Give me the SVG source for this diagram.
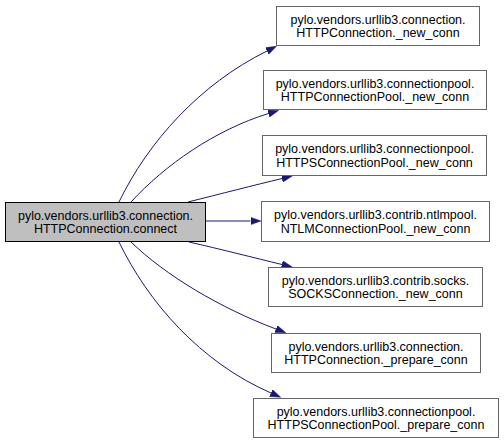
<svg xmlns="http://www.w3.org/2000/svg" width="504" height="444" viewBox="0 0 504 444">
<defs>
<style>
.n rect{fill:#ffffff;stroke:#666666;stroke-width:1}
.n.cur rect{fill:#bfbfbf;stroke:#000000}
.n text{font-family:"Liberation Sans",Arial,sans-serif;font-size:12.5px;fill:#000;text-anchor:middle}
.e path{fill:none;stroke:#191970;stroke-width:1}
</style>
<marker id="ah" markerUnits="userSpaceOnUse" markerWidth="11" markerHeight="8" refX="0" refY="3.75" orient="auto">
<path d="M0,0 L10.5,3.75 L0,7.5 z" fill="#191970" stroke="#191970" stroke-width="0.5"/>
</marker>
</defs>
<rect width="504" height="444" fill="#ffffff"/>
<g id="edges" class="e">
<path d="M119,202 C148,142 200,84 267,51" marker-end="url(#ah)"/>
<path d="M131,202 C165,165 215,130 268.5,113.5" marker-end="url(#ah)"/>
<path d="M188,202 C220,194 255,185 282,178.5" marker-end="url(#ah)"/>
<path d="M206,221 L250.5,221" marker-end="url(#ah)"/>
<path d="M189,242 C220,249 255,258 282,264.5" marker-end="url(#ah)"/>
<path d="M131,242 C165,275 220,308 276,329" marker-end="url(#ah)"/>
<path d="M119,242 C148,302 200,362 271,393" marker-end="url(#ah)"/>
</g>
<g id="node0" class="n cur">
<rect x="5.5" y="202.5" width="200" height="39"/>
<text x="105.5" y="219.5">pylo.vendors.urllib3.connection.</text>
<text x="105.5" y="233.2">HTTPConnection.connect</text>
</g>
<g id="node1" class="n">
<rect x="276.5" y="6.5" width="203" height="39"/>
<text x="378" y="23.5">pylo.vendors.urllib3.connection.</text>
<text x="378" y="37.2">HTTPConnection._new_conn</text>
</g>
<g id="node2" class="n">
<rect x="263.5" y="70.5" width="223" height="39"/>
<text x="375" y="87.5">pylo.vendors.urllib3.connectionpool.</text>
<text x="375" y="101.2">HTTPConnectionPool._new_conn</text>
</g>
<g id="node3" class="n">
<rect x="262.5" y="135.5" width="224" height="40"/>
<text x="374.5" y="153">pylo.vendors.urllib3.connectionpool.</text>
<text x="374.5" y="166.7">HTTPSConnectionPool._new_conn</text>
</g>
<g id="node4" class="n">
<rect x="261.5" y="201.5" width="228" height="40"/>
<text x="375.5" y="219">pylo.vendors.urllib3.contrib.ntlmpool.</text>
<text x="375.5" y="232.7">NTLMConnectionPool._new_conn</text>
</g>
<g id="node5" class="n">
<rect x="268.5" y="267.5" width="214" height="39"/>
<text x="375.5" y="284.5">pylo.vendors.urllib3.contrib.socks.</text>
<text x="375.5" y="298.2">SOCKSConnection._new_conn</text>
</g>
<g id="node6" class="n">
<rect x="271.5" y="333.5" width="209" height="39"/>
<text x="376" y="350.5">pylo.vendors.urllib3.connection.</text>
<text x="376" y="364.2">HTTPConnection._prepare_conn</text>
</g>
<g id="node7" class="n">
<rect x="253.5" y="398.5" width="245" height="39"/>
<text x="376" y="415.5">pylo.vendors.urllib3.connectionpool.</text>
<text x="376" y="429.2">HTTPSConnectionPool._prepare_conn</text>
</g>
</svg>
